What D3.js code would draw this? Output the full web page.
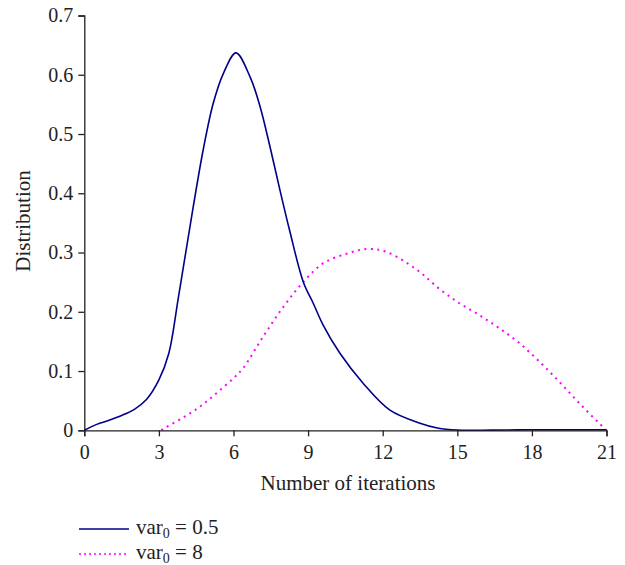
<!DOCTYPE html>
<html>
<head>
<meta charset="utf-8">
<script src="https://cdn.jsdelivr.net/npm/d3@7"></script>
<style>
  body { margin: 0; background: #fff; }
  text { font-family: "Liberation Serif", "DejaVu Serif", serif; fill: #222; }
</style>
</head>
<body>
<div id="chart"></div>
<script>
// var0 = 0.5 (solid blue)
var iterA = [0, 0.5, 1, 1.5, 2, 2.5, 3, 3.4, 3.78, 4.38, 4.78, 5.18, 5.59, 6.1, 6.67, 7.07, 7.47, 7.87, 8.27, 8.81, 9.21, 9.6, 10.28, 11.22, 12.29, 13.5, 14.2, 15, 16, 17, 18, 19, 20, 21];
var distA = [0, 0.01, 0.017, 0.025, 0.035, 0.052, 0.085, 0.13, 0.223, 0.377, 0.473, 0.551, 0.602, 0.637, 0.596, 0.546, 0.478, 0.405, 0.335, 0.25, 0.214, 0.178, 0.13, 0.079, 0.034, 0.012, 0.004, 0.0005, 0.0002, 0.0005, 0.001, 0.001, 0.001, 0.001];

// var0 = 8 (dotted magenta)
var iterB = [3.1, 3.2, 4, 4.65, 5.3, 6, 6.39, 7.19, 8, 8.8, 9.61, 10.55, 11.36, 12.16, 13.4, 14.3, 15.1, 15.9, 16.7, 17.5, 18.3, 19.1, 19.9, 20.7, 21];
var distB = [0, 0.003, 0.022, 0.04, 0.062, 0.088, 0.105, 0.158, 0.208, 0.25, 0.282, 0.298, 0.306, 0.301, 0.27, 0.238, 0.214, 0.194, 0.172, 0.147, 0.116, 0.082, 0.046, 0.012, 0];

var xTicks = [0, 3, 6, 9, 12, 15, 18, 21];
var yTicks = [0, 0.1, 0.2, 0.3, 0.4, 0.5, 0.6, 0.7];

var width = 625, height = 565;

var x = d3.scaleLinear().domain([0, 21]).range([84.3, 606.5]);
var y = d3.scaleLinear().domain([0, 0.7]).range([430.3, 15.5]);

var svg = d3.select("#chart").append("svg")
    .attr("width", width)
    .attr("height", height);

var line = d3.line()
    .x(function (d) { return x(d[0]); })
    .y(function (d) { return Math.min(y(d[1]), y(0)); })
    .curve(d3.curveCatmullRom.alpha(0.5));

svg.append("path")
    .datum(d3.zip(iterB, distB))
    .attr("d", line)
    .attr("fill", "none")
    .attr("stroke", "#ff00ff")
    .attr("stroke-width", 2)
    .attr("stroke-dasharray", "2,4.5");

svg.append("path")
    .datum(d3.zip(iterA, distA))
    .attr("d", line)
    .attr("fill", "none")
    .attr("stroke", "#000088")
    .attr("stroke-width", 1.6);

var xAxis = svg.append("g")
    .attr("transform", "translate(0," + y(0) + ")")
    .call(d3.axisBottom(x).tickValues(xTicks).tickSize(6).tickPadding(9).tickFormat(d3.format("d")));

var yAxis = svg.append("g")
    .attr("transform", "translate(" + x(0) + ",0)")
    .call(d3.axisLeft(y).tickValues(yTicks).tickSize(6).tickPadding(5)
        .tickFormat(function (d) { return d === 0 ? "0" : d3.format(".1f")(d); }));

[xAxis, yAxis].forEach(function (a) {
    a.select(".domain").attr("stroke", "#222").attr("stroke-width", 1.3);
    a.selectAll(".tick line").attr("stroke", "#222").attr("stroke-width", 1.3);
    a.selectAll(".tick text").style("font-size", "20px").attr("fill", "#222");
});

svg.append("text")
    .attr("x", 348)
    .attr("y", 490)
    .attr("text-anchor", "middle")
    .style("font-size", "21px")
    .text("Number of iterations");

svg.append("text")
    .attr("transform", "translate(30," + 221 + ") rotate(-90)")
    .attr("text-anchor", "middle")
    .style("font-size", "21px")
    .text("Distribution");

// legend
var legend = [
    {label: "0.5", color: "#000088", dash: null, w: 1.6},
    {label: "8", color: "#ff00ff", dash: "2,3", w: 1.5}
];

var lg = svg.selectAll(".lg")
    .data(legend)
    .enter().append("g")
    .attr("transform", function (d, i) { return "translate(0," + (529 + i * 25) + ")"; });

lg.append("line")
    .attr("x1", 79).attr("x2", 129)
    .attr("y1", 0).attr("y2", 0)
    .attr("stroke", function (d) { return d.color; })
    .attr("stroke-width", function (d) { return d.w; })
    .attr("stroke-dasharray", function (d) { return d.dash; });

var lt = lg.append("text")
    .attr("x", 136)
    .attr("y", 5)
    .style("font-size", "21px");
lt.append("tspan").text("var");
lt.append("tspan").attr("dy", 4).style("font-size", "14px").text("0");
lt.append("tspan").attr("dy", -4).text(function (d) { return " = " + d.label; });
</script>
</body>
</html>
